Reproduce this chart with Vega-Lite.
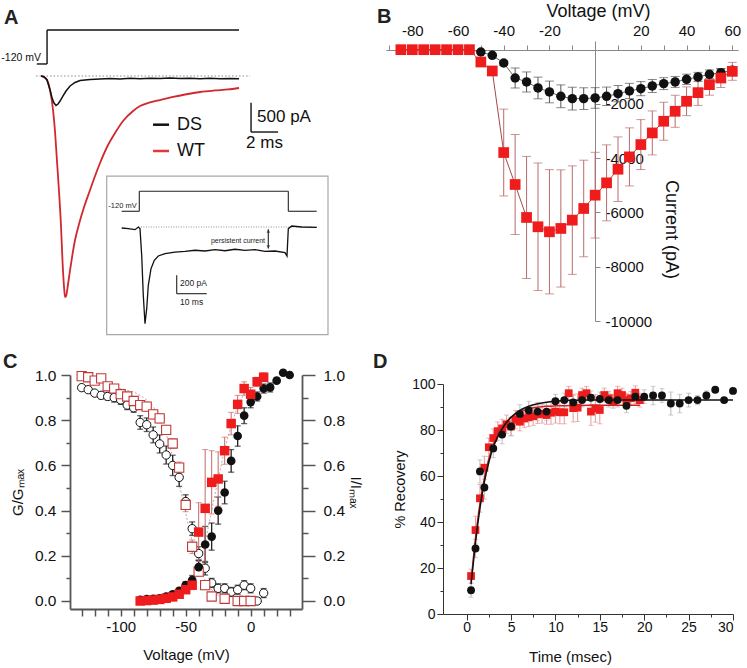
{
"$schema": "https://vega.github.io/schema/vega-lite/v6.json",
"padding": {"left": 1, "top": 2, "right": 2, "bottom": 2},
"background": "white",
"config": {
  "font": "Liberation Sans",
  "view": {"stroke": null},
  "locale": {"number": {"decimal": ".", "thousands": ",", "grouping": [3], "currency": ["$", ""], "minus": "-"}},
  "axis": {"grid": false, "labelFont": "Liberation Sans", "titleFont": "Liberation Sans", "titleFontWeight": "normal", "labelColor": "#111", "titleColor": "#111", "domainColor": "#444", "tickColor": "#444"},
  "title": {"font": "Liberation Sans", "fontSize": 20, "fontWeight": "bold", "anchor": "start", "frame": "group", "color": "#222", "offset": 0}
},
"columns": 2,
"align": "none",
"bounds": "flush",
"spacing": {"row": 54, "column": 84},
"datasets": {
  "Atr": [
    {"g":"WT","t":-0.444,"I":0},{"g":"WT","t":-0.222,"I":-17},{"g":"WT","t":0,"I":-68},{"g":"WT","t":0.222,"I":-239},{"g":"WT","t":0.444,"I":-580},{"g":"WT","t":0.593,"I":-956},{"g":"WT","t":0.741,"I":-1468},{"g":"WT","t":0.889,"I":-1980},{"g":"WT","t":1.037,"I":-2577},{"g":"WT","t":1.148,"I":-3174},{"g":"WT","t":1.259,"I":-3601},{"g":"WT","t":1.333,"I":-3771},{"g":"WT","t":1.407,"I":-3754},{"g":"WT","t":1.556,"I":-3550},{"g":"WT","t":1.704,"I":-3311},{"g":"WT","t":1.852,"I":-3089},{"g":"WT","t":2.074,"I":-2799},{"g":"WT","t":2.370,"I":-2526},{"g":"WT","t":2.741,"I":-2236},{"g":"WT","t":3.185,"I":-1945},{"g":"WT","t":3.556,"I":-1707},{"g":"WT","t":3.926,"I":-1485},{"g":"WT","t":4.444,"I":-1212},{"g":"WT","t":5.037,"I":-973},{"g":"WT","t":5.630,"I":-768},{"g":"WT","t":6.370,"I":-597},{"g":"WT","t":6.889,"I":-512},{"g":"WT","t":7.630,"I":-452},{"g":"WT","t":8.370,"I":-410},{"g":"WT","t":9.333,"I":-358},{"g":"WT","t":10.222,"I":-316},{"g":"WT","t":11.333,"I":-273},{"g":"WT","t":12.444,"I":-247},{"g":"WT","t":13.407,"I":-230},{"g":"WT","t":14.222,"I":-205},
    {"g":"DS","t":-0.444,"I":0},{"g":"DS","t":-0.222,"I":-17},{"g":"DS","t":0,"I":-68},{"g":"DS","t":0.222,"I":-239},{"g":"DS","t":0.370,"I":-375},{"g":"DS","t":0.519,"I":-461},{"g":"DS","t":0.667,"I":-503},{"g":"DS","t":0.815,"I":-478},{"g":"DS","t":0.963,"I":-427},{"g":"DS","t":1.185,"I":-341},{"g":"DS","t":1.407,"I":-256},{"g":"DS","t":1.704,"I":-171},{"g":"DS","t":2.074,"I":-111},{"g":"DS","t":2.444,"I":-77},{"g":"DS","t":3.185,"I":-60},{"g":"DS","t":3.926,"I":-51},{"g":"DS","t":4.667,"I":-43},{"g":"DS","t":5.407,"I":-51},{"g":"DS","t":6.148,"I":-39},{"g":"DS","t":6.889,"I":-48},{"g":"DS","t":7.630,"I":-38},{"g":"DS","t":8.370,"I":-44},{"g":"DS","t":9.111,"I":-34},{"g":"DS","t":9.852,"I":-43},{"g":"DS","t":10.593,"I":-38},{"g":"DS","t":11.333,"I":-46},{"g":"DS","t":12.074,"I":-39},{"g":"DS","t":12.815,"I":-48},{"g":"DS","t":13.556,"I":-41},{"g":"DS","t":14.222,"I":-48}
  ],
  "Aseg": [
    {"k":"proto","t":-0.76,"I":205,"t2":0,"I2":205},
    {"k":"proto","t":0,"I":205,"t2":0,"I2":785},
    {"k":"proto","t":0,"I":785,"t2":14.22,"I2":785},
    {"k":"base","t":-0.81,"I":0,"t2":15.04,"I2":0},
    {"k":"bar","t":15.111,"I":-456,"t2":15.111,"I2":-956},
    {"k":"bar","t":15.111,"I":-956,"t2":17.111,"I2":-956},
    {"k":"legDS","t":7.852,"I":-831,"t2":9.037,"I2":-831},
    {"k":"legWT","t":7.852,"I":-1280,"t2":9.037,"I2":-1280}
  ],
  "Atx": [
    {"k":"mv","t":-0.444,"I":307,"s":"-120 mV"},
    {"k":"leg","t":9.63,"I":-831,"s":"DS"},
    {"k":"leg","t":9.63,"I":-1280,"s":"WT"},
    {"k":"bar","t":15.556,"I":-700,"s":"500 pA"},
    {"k":"bar","t":14.74,"I":-1143,"s":"2 ms"}
  ],
  "Iseg": [
    {"k":"box","ti":-10.87,"Ii":554,"ti2":62.9,"Ii2":-1171},
    {"k":"proto","ti":-5.87,"Ii":171,"ti2":0,"Ii2":171},
    {"k":"proto","ti":0,"Ii":171,"ti2":0,"Ii2":388},
    {"k":"proto","ti":0,"Ii":388,"ti2":49.67,"Ii2":388},
    {"k":"proto","ti":49.67,"Ii":388,"ti2":49.67,"Ii2":171},
    {"k":"proto","ti":49.67,"Ii":171,"ti2":59.13,"Ii2":171},
    {"k":"base","ti":-0.3,"Ii":0,"ti2":59.13,"Ii2":0},
    {"k":"bar","ti":12.47,"Ii":-525,"ti2":12.47,"Ii2":-725},
    {"k":"bar","ti":12.47,"Ii":-725,"ti2":22.47,"Ii2":-725},
    {"k":"arrow","ti":43,"Ii":-25,"ti2":43,"Ii2":-235}
  ],
  "Iarr": [{"ti":43,"Ii":-45,"d":"up"},{"ti":43,"Ii":-215,"d":"down"}],
  "Itx": [
    {"k":"mv","ti":-0.87,"Ii":228,"s":"-120 mV"},
    {"k":"pc","ti":41.9,"Ii":-152,"s":"persistent current"},
    {"k":"bar","ti":13.57,"Ii":-609,"s":"200 pA"},
    {"k":"bar","ti":13.57,"Ii":-815,"s":"10 ms"}
  ],
  "Itr": [
    {"ti":-5.87,"Ii":-11},{"ti":-3.67,"Ii":-18},{"ti":-1.43,"Ii":-29},{"ti":-0.33,"Ii":0},{"ti":0.23,"Ii":-18},{"ti":0.8,"Ii":-308},{"ti":1.33,"Ii":-742},{"ti":1.9,"Ii":-1051},{"ti":2.47,"Ii":-888},{"ti":3.0,"Ii":-634},{"ti":3.9,"Ii":-453},{"ti":5.0,"Ii":-362},{"ti":6.33,"Ii":-315},{"ti":8.57,"Ii":-290},{"ti":11.9,"Ii":-272},{"ti":15.23,"Ii":-264},{"ti":18.57,"Ii":-253},{"ti":21.9,"Ii":-261},{"ti":25.23,"Ii":-247},{"ti":28.57,"Ii":-258},{"ti":31.9,"Ii":-242},{"ti":35.23,"Ii":-253},{"ti":38.57,"Ii":-247},{"ti":41.9,"Ii":-264},{"ti":45.23,"Ii":-261},{"ti":48.57,"Ii":-279},{"ti":49.23,"Ii":-315},{"ti":49.67,"Ii":-18},{"ti":50.8,"Ii":11},{"ti":54.13,"Ii":0},{"ti":59.13,"Ii":-3}
  ],
  "B": [
    {"g":"DS","V":-85,"I":0,"lo":0,"hi":0},{"g":"DS","V":-80,"I":0,"lo":0,"hi":0},{"g":"DS","V":-75,"I":0,"lo":0,"hi":0},{"g":"DS","V":-70,"I":0,"lo":0,"hi":0},{"g":"DS","V":-65,"I":0,"lo":0,"hi":0},{"g":"DS","V":-60,"I":0,"lo":0,"hi":0},{"g":"DS","V":-55,"I":0,"lo":0,"hi":0},
    {"g":"DS","V":-50,"I":-86,"lo":-136,"hi":-36},{"g":"DS","V":-45,"I":-209,"lo":-269,"hi":-149},{"g":"DS","V":-40,"I":-491,"lo":-571,"hi":-411},{"g":"DS","V":-35,"I":-1043,"lo":-1413,"hi":-673},{"g":"DS","V":-30,"I":-1190,"lo":-1560,"hi":-820},{"g":"DS","V":-25,"I":-1411,"lo":-1811,"hi":-1011},{"g":"DS","V":-20,"I":-1558,"lo":-1958,"hi":-1158},{"g":"DS","V":-15,"I":-1718,"lo":-2138,"hi":-1298},{"g":"DS","V":-10,"I":-1804,"lo":-2224,"hi":-1384},{"g":"DS","V":-5,"I":-1804,"lo":-2204,"hi":-1404},{"g":"DS","V":0,"I":-1779,"lo":-2159,"hi":-1399},{"g":"DS","V":5,"I":-1718,"lo":-2058,"hi":-1378},{"g":"DS","V":10,"I":-1620,"lo":-1920,"hi":-1320},{"g":"DS","V":15,"I":-1521,"lo":-1801,"hi":-1241},{"g":"DS","V":20,"I":-1436,"lo":-1696,"hi":-1176},{"g":"DS","V":25,"I":-1337,"lo":-1577,"hi":-1097},{"g":"DS","V":30,"I":-1251,"lo":-1471,"hi":-1031},{"g":"DS","V":35,"I":-1190,"lo":-1390,"hi":-990},{"g":"DS","V":40,"I":-1092,"lo":-1282,"hi":-902},{"g":"DS","V":45,"I":-1006,"lo":-1176,"hi":-836},{"g":"DS","V":50,"I":-908,"lo":-1068,"hi":-748},{"g":"DS","V":55,"I":-847,"lo":-997,"hi":-697},{"g":"DS","V":60,"I":-761,"lo":-901,"hi":-621},
    {"g":"WT","V":-85,"I":0,"lo":0,"hi":0},{"g":"WT","V":-80,"I":0,"lo":0,"hi":0},{"g":"WT","V":-75,"I":0,"lo":0,"hi":0},{"g":"WT","V":-70,"I":0,"lo":0,"hi":0},{"g":"WT","V":-65,"I":0,"lo":0,"hi":0},{"g":"WT","V":-60,"I":0,"lo":0,"hi":0},{"g":"WT","V":-55,"I":0,"lo":0,"hi":0},
    {"g":"WT","V":-50,"I":-454,"lo":-604,"hi":-304},{"g":"WT","V":-45,"I":-785,"lo":-935,"hi":-635},{"g":"WT","V":-40,"I":-3791,"lo":-5391,"hi":-2191},{"g":"WT","V":-35,"I":-4969,"lo":-6809,"hi":-3129},{"g":"WT","V":-30,"I":-6184,"lo":-8434,"hi":-3934},{"g":"WT","V":-25,"I":-6527,"lo":-8877,"hi":-4177},{"g":"WT","V":-20,"I":-6711,"lo":-9001,"hi":-4421},{"g":"WT","V":-15,"I":-6589,"lo":-8749,"hi":-4429},{"g":"WT","V":-10,"I":-6282,"lo":-8282,"hi":-4282},{"g":"WT","V":-5,"I":-5853,"lo":-7633,"hi":-4073},{"g":"WT","V":0,"I":-5362,"lo":-6942,"hi":-3782},{"g":"WT","V":5,"I":-4908,"lo":-6308,"hi":-3508},{"g":"WT","V":10,"I":-4405,"lo":-5595,"hi":-3215},{"g":"WT","V":15,"I":-3951,"lo":-5021,"hi":-2881},{"g":"WT","V":20,"I":-3497,"lo":-4417,"hi":-2577},{"g":"WT","V":25,"I":-3068,"lo":-3878,"hi":-2258},{"g":"WT","V":30,"I":-2638,"lo":-3338,"hi":-1938},{"g":"WT","V":35,"I":-2270,"lo":-2860,"hi":-1680},{"g":"WT","V":40,"I":-1902,"lo":-2432,"hi":-1372},{"g":"WT","V":45,"I":-1583,"lo":-2053,"hi":-1113},{"g":"WT","V":50,"I":-1288,"lo":-1678,"hi":-898},{"g":"WT","V":55,"I":-1043,"lo":-1393,"hi":-693},{"g":"WT","V":60,"I":-798,"lo":-1128,"hi":-468}
  ],
  "C": [
    {"g":"DSi","V":-130,"v":0.944,"lo":0.934,"hi":0.954},{"g":"DSi","V":-125,"v":0.935,"lo":0.925,"hi":0.945},{"g":"DSi","V":-120,"v":0.92,"lo":0.91,"hi":0.93},{"g":"DSi","V":-115,"v":0.91,"lo":0.895,"hi":0.925},{"g":"DSi","V":-110,"v":0.905,"lo":0.89,"hi":0.92},{"g":"DSi","V":-105,"v":0.9,"lo":0.88,"hi":0.92},{"g":"DSi","V":-100,"v":0.89,"lo":0.87,"hi":0.91},{"g":"DSi","V":-95,"v":0.867,"lo":0.847,"hi":0.887},{"g":"DSi","V":-90,"v":0.855,"lo":0.835,"hi":0.875},{"g":"DSi","V":-85,"v":0.79,"lo":0.76,"hi":0.82},{"g":"DSi","V":-80,"v":0.78,"lo":0.75,"hi":0.81},{"g":"DSi","V":-75,"v":0.735,"lo":0.7,"hi":0.77},{"g":"DSi","V":-70,"v":0.695,"lo":0.655,"hi":0.735},{"g":"DSi","V":-65,"v":0.646,"lo":0.606,"hi":0.686},{"g":"DSi","V":-60,"v":0.6,"lo":0.555,"hi":0.645},{"g":"DSi","V":-55,"v":0.547,"lo":0.507,"hi":0.587},{"g":"DSi","V":-50,"v":0.44,"lo":0.41,"hi":0.47},{"g":"DSi","V":-45,"v":0.32,"lo":0.29,"hi":0.35},{"g":"DSi","V":-40,"v":0.21,"lo":0.18,"hi":0.24},{"g":"DSi","V":-35,"v":0.145,"lo":0.115,"hi":0.175},{"g":"DSi","V":-30,"v":0.08,"lo":0.06,"hi":0.1},{"g":"DSi","V":-25,"v":0.056,"lo":0.036,"hi":0.076},{"g":"DSi","V":-20,"v":0.056,"lo":0.036,"hi":0.076},{"g":"DSi","V":-15,"v":0.04,"lo":0.02,"hi":0.06},{"g":"DSi","V":-10,"v":0.05,"lo":0.03,"hi":0.07},{"g":"DSi","V":-5,"v":0.07,"lo":0.05,"hi":0.09},{"g":"DSi","V":0,"v":0.056,"lo":0.036,"hi":0.076},{"g":"DSi","V":5,"v":0.0,"lo":-0.01,"hi":0.01},{"g":"DSi","V":10,"v":0.035,"lo":0.015,"hi":0.055},
    {"g":"WTi","V":-130,"v":0.995,"lo":0.99,"hi":1.0},{"g":"WTi","V":-125,"v":0.99,"lo":0.985,"hi":0.995},{"g":"WTi","V":-120,"v":0.975,"lo":0.965,"hi":0.985},{"g":"WTi","V":-115,"v":0.985,"lo":0.975,"hi":0.995},{"g":"WTi","V":-110,"v":0.95,"lo":0.94,"hi":0.96},{"g":"WTi","V":-105,"v":0.94,"lo":0.93,"hi":0.95},{"g":"WTi","V":-100,"v":0.915,"lo":0.9,"hi":0.93},{"g":"WTi","V":-95,"v":0.905,"lo":0.89,"hi":0.92},{"g":"WTi","V":-90,"v":0.885,"lo":0.87,"hi":0.9},{"g":"WTi","V":-85,"v":0.867,"lo":0.847,"hi":0.887},{"g":"WTi","V":-80,"v":0.86,"lo":0.84,"hi":0.88},{"g":"WTi","V":-75,"v":0.826,"lo":0.806,"hi":0.846},{"g":"WTi","V":-70,"v":0.808,"lo":0.788,"hi":0.828},{"g":"WTi","V":-65,"v":0.757,"lo":0.737,"hi":0.777},{"g":"WTi","V":-60,"v":0.697,"lo":0.677,"hi":0.717},{"g":"WTi","V":-55,"v":0.59,"lo":0.565,"hi":0.615},{"g":"WTi","V":-50,"v":0.425,"lo":0.395,"hi":0.455},{"g":"WTi","V":-45,"v":0.24,"lo":0.21,"hi":0.27},{"g":"WTi","V":-40,"v":0.13,"lo":0.11,"hi":0.15},{"g":"WTi","V":-35,"v":0.07,"lo":0.05,"hi":0.09},{"g":"WTi","V":-30,"v":0.02,"lo":0.01,"hi":0.03},{"g":"WTi","V":-20,"v":0.01,"lo":0.0,"hi":0.02},{"g":"WTi","V":-10,"v":0.0,"lo":-0.005,"hi":0.005},{"g":"WTi","V":-5,"v":0.0,"lo":-0.005,"hi":0.005},{"g":"WTi","V":0,"v":0.0,"lo":-0.005,"hi":0.005},
    {"g":"DSa","V":-85,"v":0.005,"lo":0.002,"hi":0.008},{"g":"DSa","V":-80,"v":0.008,"lo":0.005,"hi":0.011},{"g":"DSa","V":-75,"v":0.01,"lo":0.007,"hi":0.013},{"g":"DSa","V":-70,"v":0.012,"lo":0.008,"hi":0.016},{"g":"DSa","V":-65,"v":0.02,"lo":0.015,"hi":0.025},{"g":"DSa","V":-60,"v":0.03,"lo":0.024,"hi":0.036},{"g":"DSa","V":-55,"v":0.045,"lo":0.035,"hi":0.055},{"g":"DSa","V":-50,"v":0.07,"lo":0.055,"hi":0.085},{"g":"DSa","V":-45,"v":0.093,"lo":0.073,"hi":0.113},{"g":"DSa","V":-40,"v":0.15,"lo":0.12,"hi":0.18},{"g":"DSa","V":-35,"v":0.25,"lo":0.17,"hi":0.33},{"g":"DSa","V":-30,"v":0.285,"lo":0.225,"hi":0.345},{"g":"DSa","V":-25,"v":0.4,"lo":0.34,"hi":0.46},{"g":"DSa","V":-20,"v":0.48,"lo":0.43,"hi":0.53},{"g":"DSa","V":-15,"v":0.62,"lo":0.57,"hi":0.67},{"g":"DSa","V":-10,"v":0.73,"lo":0.685,"hi":0.775},{"g":"DSa","V":-5,"v":0.82,"lo":0.785,"hi":0.855},{"g":"DSa","V":0,"v":0.88,"lo":0.855,"hi":0.905},{"g":"DSa","V":5,"v":0.905,"lo":0.885,"hi":0.925},{"g":"DSa","V":10,"v":0.94,"lo":0.92,"hi":0.96},{"g":"DSa","V":15,"v":0.945,"lo":0.925,"hi":0.965},{"g":"DSa","V":20,"v":0.975,"lo":0.965,"hi":0.985},{"g":"DSa","V":25,"v":1.01,"lo":1.0,"hi":1.02},{"g":"DSa","V":30,"v":1.0,"lo":0.99,"hi":1.01},
    {"g":"WTa","V":-85,"v":0.0,"lo":-0.003,"hi":0.003},{"g":"WTa","V":-80,"v":0.002,"lo":-0.001,"hi":0.005},{"g":"WTa","V":-75,"v":0.004,"lo":0.001,"hi":0.007},{"g":"WTa","V":-70,"v":0.007,"lo":0.004,"hi":0.01},{"g":"WTa","V":-65,"v":0.012,"lo":0.008,"hi":0.016},{"g":"WTa","V":-60,"v":0.018,"lo":0.013,"hi":0.023},{"g":"WTa","V":-55,"v":0.03,"lo":0.02,"hi":0.04},{"g":"WTa","V":-50,"v":0.05,"lo":0.035,"hi":0.065},{"g":"WTa","V":-45,"v":0.07,"lo":0.05,"hi":0.09},{"g":"WTa","V":-40,"v":0.305,"lo":0.175,"hi":0.435},{"g":"WTa","V":-35,"v":0.41,"lo":0.15,"hi":0.67},{"g":"WTa","V":-30,"v":0.525,"lo":0.385,"hi":0.665},{"g":"WTa","V":-25,"v":0.54,"lo":0.42,"hi":0.66},{"g":"WTa","V":-20,"v":0.665,"lo":0.605,"hi":0.725},{"g":"WTa","V":-15,"v":0.785,"lo":0.735,"hi":0.835},{"g":"WTa","V":-10,"v":0.87,"lo":0.83,"hi":0.91},{"g":"WTa","V":-5,"v":0.94,"lo":0.91,"hi":0.97},{"g":"WTa","V":0,"v":0.915,"lo":0.885,"hi":0.945},{"g":"WTa","V":5,"v":0.97,"lo":0.95,"hi":0.99},{"g":"WTa","V":10,"v":0.99,"lo":0.97,"hi":1.01}
  ],
  "Cfit": [
    {"k":"in","V":-110,"v":0.95},{"k":"in","V":-100,"v":0.94},{"k":"in","V":-90,"v":0.925},{"k":"in","V":-85,"v":0.91},{"k":"in","V":-80,"v":0.89},{"k":"in","V":-75,"v":0.86},{"k":"in","V":-70,"v":0.81},{"k":"in","V":-65,"v":0.74},{"k":"in","V":-60,"v":0.64},{"k":"in","V":-55,"v":0.52},{"k":"in","V":-50,"v":0.39},{"k":"in","V":-45,"v":0.26},{"k":"in","V":-40,"v":0.16},{"k":"in","V":-35,"v":0.09},{"k":"in","V":-30,"v":0.05},{"k":"in","V":-25,"v":0.025},{"k":"in","V":-20,"v":0.01},
    {"k":"act","V":-65,"v":0.01},{"k":"act","V":-55,"v":0.025},{"k":"act","V":-50,"v":0.04},{"k":"act","V":-45,"v":0.08},{"k":"act","V":-40,"v":0.15},{"k":"act","V":-35,"v":0.26},{"k":"act","V":-30,"v":0.4},{"k":"act","V":-25,"v":0.54},{"k":"act","V":-20,"v":0.67},{"k":"act","V":-15,"v":0.78},{"k":"act","V":-10,"v":0.86},{"k":"act","V":-5,"v":0.92},{"k":"act","V":0,"v":0.95}
  ],
  "D": [
    {"g":"DS","t":0.5,"v":10.3,"lo":7.3,"hi":13.3},{"g":"DS","t":1,"v":28.5,"lo":24.5,"hi":32.5},{"g":"DS","t":1.5,"v":62,"lo":57,"hi":67},{"g":"DS","t":2,"v":55,"lo":50,"hi":60},{"g":"DS","t":3,"v":72,"lo":68,"hi":76},{"g":"DS","t":4,"v":78,"lo":74,"hi":82},{"g":"DS","t":5,"v":81.5,"lo":77.5,"hi":85.5},{"g":"DS","t":6,"v":87,"lo":83,"hi":91},{"g":"DS","t":7,"v":88.5,"lo":84.5,"hi":92.5},{"g":"DS","t":8,"v":88,"lo":84,"hi":92},{"g":"DS","t":9,"v":88,"lo":84,"hi":92},{"g":"DS","t":10,"v":92.5,"lo":89.5,"hi":95.5},{"g":"DS","t":11,"v":93,"lo":90,"hi":96},{"g":"DS","t":12,"v":92,"lo":89,"hi":95},{"g":"DS","t":13,"v":93,"lo":90,"hi":96},{"g":"DS","t":14,"v":94,"lo":91,"hi":97},{"g":"DS","t":15,"v":93.5,"lo":90.5,"hi":96.5},{"g":"DS","t":16,"v":93,"lo":90,"hi":96},{"g":"DS","t":17,"v":93,"lo":90,"hi":96},{"g":"DS","t":18,"v":90.5,"lo":87.5,"hi":93.5},{"g":"DS","t":19,"v":94.5,"lo":91.5,"hi":97.5},{"g":"DS","t":20,"v":94.5,"lo":91.5,"hi":97.5},{"g":"DS","t":21,"v":95,"lo":91,"hi":99},{"g":"DS","t":22,"v":95,"lo":92,"hi":98},{"g":"DS","t":23,"v":91.5,"lo":86.5,"hi":96.5},{"g":"DS","t":24,"v":91.5,"lo":87.5,"hi":95.5},{"g":"DS","t":25,"v":93,"lo":90,"hi":96},{"g":"DS","t":26,"v":93,"lo":91,"hi":95},{"g":"DS","t":27,"v":95,"lo":93,"hi":97},{"g":"DS","t":28,"v":97.5,"lo":97.5,"hi":97.5},{"g":"DS","t":29,"v":93,"lo":93,"hi":93},{"g":"DS","t":30,"v":97,"lo":97,"hi":97},
    {"g":"WT","t":0.5,"v":16.5,"lo":13.5,"hi":19.5},{"g":"WT","t":1.0,"v":36.5,"lo":30.5,"hi":42.5},{"g":"WT","t":1.5,"v":50.3,"lo":44.3,"hi":56.3},{"g":"WT","t":2.0,"v":63.6,"lo":58.6,"hi":68.6},{"g":"WT","t":2.5,"v":72.5,"lo":68.5,"hi":76.5},{"g":"WT","t":3.0,"v":76.5,"lo":72.5,"hi":80.5},{"g":"WT","t":3.5,"v":79.5,"lo":75.5,"hi":83.5},{"g":"WT","t":4.0,"v":80.7,"lo":76.7,"hi":84.7},{"g":"WT","t":4.5,"v":82.5,"lo":78.5,"hi":86.5},{"g":"WT","t":5.0,"v":81.5,"lo":77.5,"hi":85.5},{"g":"WT","t":5.5,"v":84.5,"lo":80.5,"hi":88.5},{"g":"WT","t":6.0,"v":83.6,"lo":79.6,"hi":87.6},{"g":"WT","t":6.5,"v":85,"lo":81,"hi":89},{"g":"WT","t":7.0,"v":85.5,"lo":81.5,"hi":89.5},{"g":"WT","t":7.5,"v":86,"lo":82,"hi":90},{"g":"WT","t":8.0,"v":86.8,"lo":82.8,"hi":90.8},{"g":"WT","t":8.5,"v":87,"lo":83,"hi":91},{"g":"WT","t":9.0,"v":86.5,"lo":82.5,"hi":90.5},{"g":"WT","t":9.5,"v":87.5,"lo":82.5,"hi":92.5},{"g":"WT","t":10.0,"v":88,"lo":83,"hi":93},{"g":"WT","t":10.5,"v":87.7,"lo":82.7,"hi":92.7},{"g":"WT","t":11.0,"v":87.7,"lo":82.7,"hi":92.7},{"g":"WT","t":11.5,"v":96,"lo":93,"hi":99},{"g":"WT","t":12.0,"v":89.5,"lo":83.5,"hi":95.5},{"g":"WT","t":12.5,"v":89.7,"lo":83.7,"hi":95.7},{"g":"WT","t":13.0,"v":95.2,"lo":92.2,"hi":98.2},{"g":"WT","t":13.5,"v":96,"lo":93,"hi":99},{"g":"WT","t":14.0,"v":88,"lo":82,"hi":94},{"g":"WT","t":14.5,"v":89.4,"lo":83.4,"hi":95.4},{"g":"WT","t":15.0,"v":88.7,"lo":82.7,"hi":94.7},{"g":"WT","t":15.5,"v":95.2,"lo":92.2,"hi":98.2},{"g":"WT","t":16.0,"v":93.8,"lo":90.8,"hi":96.8},{"g":"WT","t":16.5,"v":92.5,"lo":89.5,"hi":95.5},{"g":"WT","t":17.0,"v":96,"lo":93,"hi":99},{"g":"WT","t":17.5,"v":95.2,"lo":92.2,"hi":98.2},{"g":"WT","t":18.0,"v":93,"lo":90,"hi":96},{"g":"WT","t":18.5,"v":93.8,"lo":90.8,"hi":96.8},{"g":"WT","t":19.0,"v":96.2,"lo":93.2,"hi":99.2},{"g":"WT","t":19.5,"v":93,"lo":90,"hi":96}
  ],
  "Dfit": [
    {"g":"DS","t":0.5,"v":13},{"g":"DS","t":0.75,"v":22},{"g":"DS","t":1,"v":31},{"g":"DS","t":1.5,"v":46},{"g":"DS","t":2,"v":57.5},{"g":"DS","t":2.5,"v":66},{"g":"DS","t":3,"v":72.5},{"g":"DS","t":3.5,"v":77},{"g":"DS","t":4,"v":80.5},{"g":"DS","t":5,"v":85.5},{"g":"DS","t":6,"v":88.5},{"g":"DS","t":7,"v":90.3},{"g":"DS","t":8,"v":91.4},{"g":"DS","t":9,"v":92.1},{"g":"DS","t":10,"v":92.5},{"g":"DS","t":12,"v":92.9},{"g":"DS","t":15,"v":93},{"g":"DS","t":20,"v":93},{"g":"DS","t":25,"v":93},{"g":"DS","t":30,"v":93},
    {"g":"WT","t":0.5,"v":14},{"g":"WT","t":0.75,"v":24},{"g":"WT","t":1,"v":33},{"g":"WT","t":1.5,"v":48},{"g":"WT","t":2,"v":59},{"g":"WT","t":2.5,"v":67.5},{"g":"WT","t":3,"v":73.5},{"g":"WT","t":3.5,"v":78},{"g":"WT","t":4,"v":81.5},{"g":"WT","t":5,"v":85.5},{"g":"WT","t":6,"v":87.8},{"g":"WT","t":7,"v":89.2},{"g":"WT","t":8,"v":89.9},{"g":"WT","t":9,"v":90.3},{"g":"WT","t":10,"v":90.5},{"g":"WT","t":12,"v":90.7},{"g":"WT","t":15,"v":90.8},{"g":"WT","t":19.5,"v":90.8}
  ]
},
"concat": [
  {
    "width": 175, "height": 271,
    "title": {"text": "A", "dx": -66, "dy": 3},
    "layer": [
      {
        "layer": [
          {"data": {"name": "Aseg"}, "transform": [{"filter": "datum.k === 'base'"}], "mark": {"type": "rule", "color": "#8a8a8a", "strokeDash": [1.5, 2], "strokeWidth": 1},
           "encoding": {"x": {"field": "t", "type": "quantitative", "scale": {"domain": [1.7, 14.663], "nice": false, "zero": false}, "axis": null}, "y": {"field": "I", "type": "quantitative", "scale": {"domain": [-4027, 597], "nice": false, "zero": false}, "axis": null}, "x2": {"field": "t2"}, "y2": {"field": "I2"}}},
          {"data": {"name": "Atr"}, "transform": [{"filter": "datum.g === 'WT'"}], "mark": {"type": "line", "color": "#d0282e", "strokeWidth": 1.8, "interpolate": "monotone"},
           "encoding": {"x": {"field": "t", "type": "quantitative", "scale": {"domain": [1.7, 14.663], "nice": false, "zero": false}, "axis": null}, "y": {"field": "I", "type": "quantitative", "scale": {"domain": [-4027, 597], "nice": false, "zero": false}, "axis": null}}},
          {"data": {"name": "Atr"}, "transform": [{"filter": "datum.g === 'DS'"}], "mark": {"type": "line", "color": "#111", "strokeWidth": 1.5},
           "encoding": {"x": {"field": "t", "type": "quantitative", "scale": {"domain": [1.7, 14.663], "nice": false, "zero": false}, "axis": null}, "y": {"field": "I", "type": "quantitative", "scale": {"domain": [-4027, 597], "nice": false, "zero": false}, "axis": null}}},
          {"data": {"name": "Aseg"}, "transform": [{"filter": "datum.k === 'proto' || datum.k === 'bar'"}], "mark": {"type": "rule", "color": "#111", "strokeWidth": 1.4},
           "encoding": {"x": {"field": "t", "type": "quantitative", "scale": {"domain": [1.7, 14.663], "nice": false, "zero": false}, "axis": null}, "y": {"field": "I", "type": "quantitative", "scale": {"domain": [-4027, 597], "nice": false, "zero": false}, "axis": null}, "x2": {"field": "t2"}, "y2": {"field": "I2"}}},
          {"data": {"name": "Aseg"}, "transform": [{"filter": "datum.k === 'legDS'"}], "mark": {"type": "rule", "color": "#111", "strokeWidth": 2.5},
           "encoding": {"x": {"field": "t", "type": "quantitative", "scale": {"domain": [1.7, 14.663], "nice": false, "zero": false}, "axis": null}, "y": {"field": "I", "type": "quantitative", "scale": {"domain": [-4027, 597], "nice": false, "zero": false}, "axis": null}, "x2": {"field": "t2"}, "y2": {"field": "I2"}}},
          {"data": {"name": "Aseg"}, "transform": [{"filter": "datum.k === 'legWT'"}], "mark": {"type": "rule", "color": "#e0383d", "strokeWidth": 2.5},
           "encoding": {"x": {"field": "t", "type": "quantitative", "scale": {"domain": [1.7, 14.663], "nice": false, "zero": false}, "axis": null}, "y": {"field": "I", "type": "quantitative", "scale": {"domain": [-4027, 597], "nice": false, "zero": false}, "axis": null}, "x2": {"field": "t2"}, "y2": {"field": "I2"}}},
          {"data": {"name": "Atx"}, "transform": [{"filter": "datum.k === 'mv'"}], "mark": {"type": "text", "align": "right", "baseline": "middle", "fontSize": 10.5, "color": "#111"},
           "encoding": {"x": {"field": "t", "type": "quantitative", "scale": {"domain": [1.7, 14.663], "nice": false, "zero": false}, "axis": null}, "y": {"field": "I", "type": "quantitative", "scale": {"domain": [-4027, 597], "nice": false, "zero": false}, "axis": null}, "text": {"field": "s"}}},
          {"data": {"name": "Atx"}, "transform": [{"filter": "datum.k === 'leg'"}], "mark": {"type": "text", "align": "left", "baseline": "middle", "fontSize": 18, "color": "#111"},
           "encoding": {"x": {"field": "t", "type": "quantitative", "scale": {"domain": [1.7, 14.663], "nice": false, "zero": false}, "axis": null}, "y": {"field": "I", "type": "quantitative", "scale": {"domain": [-4027, 597], "nice": false, "zero": false}, "axis": null}, "text": {"field": "s"}}},
          {"data": {"name": "Atx"}, "transform": [{"filter": "datum.k === 'bar'"}], "mark": {"type": "text", "align": "left", "baseline": "middle", "fontSize": 17, "color": "#111"},
           "encoding": {"x": {"field": "t", "type": "quantitative", "scale": {"domain": [1.7, 14.663], "nice": false, "zero": false}, "axis": null}, "y": {"field": "I", "type": "quantitative", "scale": {"domain": [-4027, 597], "nice": false, "zero": false}, "axis": null}, "text": {"field": "s"}}}
        ]
      },
      {
        "layer": [
          {"data": {"name": "Iseg"}, "transform": [{"filter": "datum.k === 'box'"}], "mark": {"type": "rect", "fill": null, "stroke": "#a8a8a8", "strokeWidth": 1.2},
           "encoding": {"x": {"field": "ti", "type": "quantitative", "scale": {"domain": [-23.1, 35.233], "nice": false, "zero": false}, "axis": null}, "y": {"field": "Ii", "type": "quantitative", "scale": {"domain": [-924, 2022], "nice": false, "zero": false}, "axis": null}, "x2": {"field": "ti2"}, "y2": {"field": "Ii2"}}},
          {"data": {"name": "Iseg"}, "transform": [{"filter": "datum.k === 'base'"}], "mark": {"type": "rule", "color": "#777", "strokeDash": [1, 1.5], "strokeWidth": 0.8},
           "encoding": {"x": {"field": "ti", "type": "quantitative", "scale": {"domain": [-23.1, 35.233], "nice": false, "zero": false}, "axis": null}, "y": {"field": "Ii", "type": "quantitative", "scale": {"domain": [-924, 2022], "nice": false, "zero": false}, "axis": null}, "x2": {"field": "ti2"}, "y2": {"field": "Ii2"}}},
          {"data": {"name": "Iseg"}, "transform": [{"filter": "datum.k !== 'box' && datum.k !== 'base'"}], "mark": {"type": "rule", "color": "#222", "strokeWidth": 1.1},
           "encoding": {"x": {"field": "ti", "type": "quantitative", "scale": {"domain": [-23.1, 35.233], "nice": false, "zero": false}, "axis": null}, "y": {"field": "Ii", "type": "quantitative", "scale": {"domain": [-924, 2022], "nice": false, "zero": false}, "axis": null}, "x2": {"field": "ti2"}, "y2": {"field": "Ii2"}}},
          {"data": {"name": "Itr"}, "mark": {"type": "line", "color": "#111", "strokeWidth": 1.3},
           "encoding": {"x": {"field": "ti", "type": "quantitative", "scale": {"domain": [-23.1, 35.233], "nice": false, "zero": false}, "axis": null}, "y": {"field": "Ii", "type": "quantitative", "scale": {"domain": [-924, 2022], "nice": false, "zero": false}, "axis": null}}},
          {"data": {"name": "Iarr"}, "mark": {"type": "point", "filled": true, "color": "#222", "size": 14},
           "encoding": {"x": {"field": "ti", "type": "quantitative", "scale": {"domain": [-23.1, 35.233], "nice": false, "zero": false}, "axis": null}, "y": {"field": "Ii", "type": "quantitative", "scale": {"domain": [-924, 2022], "nice": false, "zero": false}, "axis": null}, "shape": {"field": "d", "type": "nominal", "scale": {"domain": ["up", "down"], "range": ["triangle-up", "triangle-down"]}, "legend": null}}},
          {"data": {"name": "Itx"}, "transform": [{"filter": "datum.k === 'mv'"}], "mark": {"type": "text", "align": "right", "baseline": "middle", "fontSize": 7.5, "color": "#222"},
           "encoding": {"x": {"field": "ti", "type": "quantitative", "scale": {"domain": [-23.1, 35.233], "nice": false, "zero": false}, "axis": null}, "y": {"field": "Ii", "type": "quantitative", "scale": {"domain": [-924, 2022], "nice": false, "zero": false}, "axis": null}, "text": {"field": "s"}}},
          {"data": {"name": "Itx"}, "transform": [{"filter": "datum.k === 'pc'"}], "mark": {"type": "text", "align": "right", "baseline": "middle", "fontSize": 7, "color": "#222"},
           "encoding": {"x": {"field": "ti", "type": "quantitative", "scale": {"domain": [-23.1, 35.233], "nice": false, "zero": false}, "axis": null}, "y": {"field": "Ii", "type": "quantitative", "scale": {"domain": [-924, 2022], "nice": false, "zero": false}, "axis": null}, "text": {"field": "s"}}},
          {"data": {"name": "Itx"}, "transform": [{"filter": "datum.k === 'bar'"}], "mark": {"type": "text", "align": "left", "baseline": "middle", "fontSize": 8.5, "color": "#222"},
           "encoding": {"x": {"field": "ti", "type": "quantitative", "scale": {"domain": [-23.1, 35.233], "nice": false, "zero": false}, "axis": null}, "y": {"field": "Ii", "type": "quantitative", "scale": {"domain": [-924, 2022], "nice": false, "zero": false}, "axis": null}, "text": {"field": "s"}}}
        ]
      }
    ],
    "resolve": {"scale": {"x": "independent", "y": "independent"}}
  },
  {
    "width": 352, "height": 280,
    "title": {"text": "B", "dx": -9, "dy": 29},
    "data": {"name": "B"},
    "encoding": {
      "x": {"field": "V", "type": "quantitative", "scale": {"domain": [-91.5, 62.5], "nice": false, "zero": false},
            "axis": {"orient": "top", "offset": -9, "values": [-90,-80,-70,-60,-50,-40,-30,-20,-10,0,10,20,30,40,50,60], "format": "d", "labelExpr": "datum.value % 20 === 0 && datum.value !== 0 ? datum.label : ''", "tickSize": 5, "labelPadding": 7, "labelFontSize": 15, "title": "Voltage (mV)", "titleFontSize": 18, "titlePadding": 3, "titleX": 212, "domainColor": "#888", "tickColor": "#888"}}
    },
    "layer": [
      {"transform": [{"filter": "datum.g === 'WT'"}], "mark": {"type": "errorbar", "color": "#b86a6a", "thickness": 1, "ticks": {"size": 9}},
       "encoding": {"y": {"field": "lo", "type": "quantitative", "scale": {"domain": [-10000, 320], "nice": false, "zero": false}, "axis": {"orient": "right", "offset": -143, "values": [-10000,-8000,-6000,-4000,-2000,0], "format": "d", "labelExpr": "datum.value === 0 ? '' : datum.label", "tickSize": 5, "labelPadding": 5, "labelFontSize": 15, "title": "Current (pA)", "titleFontSize": 18, "titleAngle": 90, "titleY": 188, "titlePadding": 10, "domainColor": "#888", "tickColor": "#888"}}, "y2": {"field": "hi"}}},
      {"transform": [{"filter": "datum.g === 'DS'"}], "mark": {"type": "errorbar", "color": "#555", "thickness": 1, "ticks": {"size": 9}},
       "encoding": {"y": {"field": "lo", "type": "quantitative", "scale": {"domain": [-10000, 320], "nice": false, "zero": false}, "axis": {"orient": "right", "offset": -143, "values": [-10000,-8000,-6000,-4000,-2000,0], "format": "d", "labelExpr": "datum.value === 0 ? '' : datum.label", "tickSize": 5, "labelPadding": 5, "labelFontSize": 15, "title": "Current (pA)", "titleFontSize": 18, "titleAngle": 90, "titleY": 188, "titlePadding": 10, "domainColor": "#888", "tickColor": "#888"}}, "y2": {"field": "hi"}}},
      {"transform": [{"filter": "datum.g === 'WT'"}], "mark": {"type": "line", "color": "#a84848", "strokeWidth": 1},
       "encoding": {"y": {"field": "I", "type": "quantitative", "scale": {"domain": [-10000, 320], "nice": false, "zero": false}, "axis": {"orient": "right", "offset": -143, "values": [-10000,-8000,-6000,-4000,-2000,0], "format": "d", "labelExpr": "datum.value === 0 ? '' : datum.label", "tickSize": 5, "labelPadding": 5, "labelFontSize": 15, "title": "Current (pA)", "titleFontSize": 18, "titleAngle": 90, "titleY": 188, "titlePadding": 10, "domainColor": "#888", "tickColor": "#888"}}}},
      {"transform": [{"filter": "datum.g === 'DS'"}], "mark": {"type": "line", "color": "#666", "strokeWidth": 1},
       "encoding": {"y": {"field": "I", "type": "quantitative", "scale": {"domain": [-10000, 320], "nice": false, "zero": false}, "axis": {"orient": "right", "offset": -143, "values": [-10000,-8000,-6000,-4000,-2000,0], "format": "d", "labelExpr": "datum.value === 0 ? '' : datum.label", "tickSize": 5, "labelPadding": 5, "labelFontSize": 15, "title": "Current (pA)", "titleFontSize": 18, "titleAngle": 90, "titleY": 188, "titlePadding": 10, "domainColor": "#888", "tickColor": "#888"}}}},
      {"transform": [{"filter": "datum.g === 'DS'"}], "mark": {"type": "point", "shape": "circle", "filled": true, "color": "#111", "size": 90, "opacity": 1},
       "encoding": {"y": {"field": "I", "type": "quantitative", "scale": {"domain": [-10000, 320], "nice": false, "zero": false}, "axis": {"orient": "right", "offset": -143, "values": [-10000,-8000,-6000,-4000,-2000,0], "format": "d", "labelExpr": "datum.value === 0 ? '' : datum.label", "tickSize": 5, "labelPadding": 5, "labelFontSize": 15, "title": "Current (pA)", "titleFontSize": 18, "titleAngle": 90, "titleY": 188, "titlePadding": 10, "domainColor": "#888", "tickColor": "#888"}}}},
      {"transform": [{"filter": "datum.g === 'WT'"}], "mark": {"type": "point", "shape": "square", "filled": true, "color": "#ee1c1c", "size": 115, "opacity": 1},
       "encoding": {"y": {"field": "I", "type": "quantitative", "scale": {"domain": [-10000, 320], "nice": false, "zero": false}, "axis": {"orient": "right", "offset": -143, "values": [-10000,-8000,-6000,-4000,-2000,0], "format": "d", "labelExpr": "datum.value === 0 ? '' : datum.label", "tickSize": 5, "labelPadding": 5, "labelFontSize": 15, "title": "Current (pA)", "titleFontSize": 18, "titleAngle": 90, "titleY": 188, "titlePadding": 10, "domainColor": "#888", "tickColor": "#888"}}}}
    ]
  },
  {
    "width": 232, "height": 234,
    "title": {"text": "C", "dx": -67, "dy": 7.5},
    "data": {"name": "C"},
    "encoding": {
      "x": {"field": "V", "type": "quantitative", "scale": {"domain": [-139, 39.5], "nice": false, "zero": false},
            "axis": {"values": [-130,-120,-110,-100,-90,-80,-70,-60,-50,-40,-30,-20,-10,0,10,20,30], "format": "d", "labelExpr": "datum.value % 50 === 0 ? datum.label : ''", "tickSize": 7, "labelPadding": 3, "labelFontSize": 15, "title": "Voltage (mV)", "titleFontSize": 15, "titlePadding": 13, "domainColor": "#555", "domainWidth": 1.8, "tickColor": "#555", "tickWidth": 1.5}}
    },
    "layer": [
      {"data": {"name": "Cfit"}, "transform": [{"filter": "datum.k === 'in'"}], "mark": {"type": "line", "color": "#c9a3a3", "strokeDash": [2, 2], "strokeWidth": 1},
       "encoding": {"y": {"field": "v", "type": "quantitative", "scale": {"domain": [-0.0354, 1.0], "nice": false, "zero": false},
         "axis": {"orient": "left", "values": [0,0.1,0.2,0.3,0.4,0.5,0.6,0.7,0.8,0.9,1.0], "labelExpr": "round(datum.value*10) % 2 === 0 ? format(datum.value, '.1f') : ''", "tickSize": {"condition": {"test": "round(datum.value*10) % 2 === 0", "value": 9}, "value": 4}, "labelPadding": 5, "labelFontSize": 15.5, "title": "G/Gₘₐₓ", "titleFontSize": 15, "titlePadding": 9, "domainColor": "#555", "domainWidth": 1.8, "tickColor": "#555", "tickWidth": 1.5}}}},
      {"data": {"name": "Cfit"}, "transform": [{"filter": "datum.k === 'act'"}], "mark": {"type": "line", "color": "#c9a3a3", "strokeDash": [2, 2], "strokeWidth": 1},
       "encoding": {"y": {"field": "v", "type": "quantitative", "scale": {"domain": [-0.0354, 1.0], "nice": false, "zero": false}, "axis": null}}},
      {"transform": [{"filter": "datum.g === 'DSi' || datum.g === 'DSa'"}], "mark": {"type": "errorbar", "color": "#222", "thickness": 1.3, "ticks": {"size": 6}},
       "encoding": {"y": {"field": "lo", "type": "quantitative", "scale": {"domain": [-0.0354, 1.0], "nice": false, "zero": false}, "axis": null}, "y2": {"field": "hi"}}},
      {"transform": [{"filter": "datum.g === 'WTi' || datum.g === 'WTa'"}], "mark": {"type": "errorbar", "color": "#c46a6a", "thickness": 1, "ticks": {"size": 6}},
       "encoding": {"y": {"field": "lo", "type": "quantitative", "scale": {"domain": [-0.0354, 1.0], "nice": false, "zero": false}, "axis": null}, "y2": {"field": "hi"}}},
      {"transform": [{"filter": "datum.g === 'DSi'"}], "mark": {"type": "point", "shape": "circle", "fill": "white", "fillOpacity": 1, "stroke": "#111", "strokeWidth": 1, "size": 70, "opacity": 1},
       "encoding": {"y": {"field": "v", "type": "quantitative", "scale": {"domain": [-0.0354, 1.0], "nice": false, "zero": false}, "axis": null}}},
      {"transform": [{"filter": "datum.g === 'WTi'"}], "mark": {"type": "point", "shape": "square", "fill": "white", "fillOpacity": 1, "stroke": "#c0393b", "strokeWidth": 1.1, "size": 85, "opacity": 1},
       "encoding": {"y": {"field": "v", "type": "quantitative", "scale": {"domain": [-0.0354, 1.0], "nice": false, "zero": false}, "axis": null}}},
      {"transform": [{"filter": "datum.g === 'DSa'"}], "mark": {"type": "point", "shape": "circle", "filled": true, "color": "#111", "size": 75, "opacity": 1},
       "encoding": {"y": {"field": "v", "type": "quantitative", "scale": {"domain": [-0.0354, 1.0], "nice": false, "zero": false},
         "axis": {"orient": "right", "values": [0,0.1,0.2,0.3,0.4,0.5,0.6,0.7,0.8,0.9,1.0], "labelExpr": "round(datum.value*10) % 2 === 0 ? format(datum.value, '.1f') : ''", "tickSize": {"condition": {"test": "round(datum.value*10) % 2 === 0", "value": 13}, "value": 6}, "labelPadding": 8, "labelFontSize": 15.5, "title": "I/Iₘₐₓ", "titleFontSize": 15, "titlePadding": 3, "domainColor": "#555", "domainWidth": 1.8, "tickColor": "#555", "tickWidth": 1.5}}}},
      {"transform": [{"filter": "datum.g === 'WTa'"}], "mark": {"type": "point", "shape": "square", "filled": true, "color": "#ee1c1c", "size": 90, "opacity": 1},
       "encoding": {"y": {"field": "v", "type": "quantitative", "scale": {"domain": [-0.0354, 1.0], "nice": false, "zero": false}, "axis": null}}}
    ],
    "resolve": {"axis": {"y": "independent"}}
  },
  {
    "width": 347, "height": 239,
    "title": {"text": "D", "dx": -13, "dy": 0.5},
    "data": {"name": "D"},
    "encoding": {
      "x": {"field": "t", "type": "quantitative", "scale": {"domain": [-2.66, 30], "range": [57, 347], "nice": false, "zero": false},
            "axis": {"values": [0,2.5,5,7.5,10,12.5,15,17.5,20,22.5,25,27.5,30], "format": "d", "labelExpr": "datum.value % 5 === 0 ? datum.label : ''", "tickSize": {"condition": {"test": "datum.value % 5 === 0", "value": 6}, "value": 3}, "labelPadding": 0, "labelFontSize": 14, "title": "Time (msec)", "titleFontSize": 15, "titlePadding": 15, "titleX": 184, "domainColor": "#333", "tickColor": "#333"}},
      "y": {"field": "v", "type": "quantitative", "scale": {"domain": [0, 100], "range": [239, 9], "nice": false, "zero": false},
            "axis": {"offset": -57, "values": [0,10,20,30,40,50,60,70,80,90,100], "format": "d", "labelExpr": "datum.value % 20 === 0 ? datum.label : ''", "tickSize": {"condition": {"test": "datum.value % 20 === 0", "value": 6}, "value": 3}, "labelPadding": 2, "labelFontSize": 14, "title": "% Recovery", "titleFontSize": 14.5, "titlePadding": 4, "titleY": 114, "domainColor": "#333", "tickColor": "#333"}}
    },
    "layer": [
      {"transform": [{"filter": "datum.g === 'WT'"}], "mark": {"type": "errorbar", "color": "#e59a9a", "thickness": 1, "ticks": {"size": 5}},
       "encoding": {"y": {"field": "lo", "type": "quantitative", "scale": {"domain": [0, 100], "range": [239, 9], "nice": false, "zero": false},
            "axis": {"offset": -57, "values": [0,10,20,30,40,50,60,70,80,90,100], "format": "d", "labelExpr": "datum.value % 20 === 0 ? datum.label : ''", "tickSize": {"condition": {"test": "datum.value % 20 === 0", "value": 6}, "value": 3}, "labelPadding": 2, "labelFontSize": 14, "title": "% Recovery", "titleFontSize": 14.5, "titlePadding": 4, "titleY": 114, "domainColor": "#333", "tickColor": "#333"}}, "y2": {"field": "hi"}}},
      {"transform": [{"filter": "datum.g === 'DS'"}], "mark": {"type": "errorbar", "color": "#b8b8b8", "thickness": 1, "ticks": {"size": 5}},
       "encoding": {"y": {"field": "lo", "type": "quantitative", "scale": {"domain": [0, 100], "range": [239, 9], "nice": false, "zero": false},
            "axis": {"offset": -57, "values": [0,10,20,30,40,50,60,70,80,90,100], "format": "d", "labelExpr": "datum.value % 20 === 0 ? datum.label : ''", "tickSize": {"condition": {"test": "datum.value % 20 === 0", "value": 6}, "value": 3}, "labelPadding": 2, "labelFontSize": 14, "title": "% Recovery", "titleFontSize": 14.5, "titlePadding": 4, "titleY": 114, "domainColor": "#333", "tickColor": "#333"}}, "y2": {"field": "hi"}}},
      {"transform": [{"filter": "datum.g === 'WT'"}], "mark": {"type": "point", "shape": "square", "filled": true, "color": "#ee1c1c", "size": 60, "opacity": 1}},
      {"data": {"name": "Dfit"}, "transform": [{"filter": "datum.g === 'WT'"}], "mark": {"type": "line", "color": "#d42020", "strokeWidth": 1.5, "interpolate": "monotone"}},
      {"data": {"name": "Dfit"}, "transform": [{"filter": "datum.g === 'DS'"}], "mark": {"type": "line", "color": "#111", "strokeWidth": 1.5, "interpolate": "monotone"}},
      {"transform": [{"filter": "datum.g === 'DS'"}], "mark": {"type": "point", "shape": "circle", "filled": true, "color": "#111", "size": 62, "opacity": 1}}
    ]
  }
]
}
